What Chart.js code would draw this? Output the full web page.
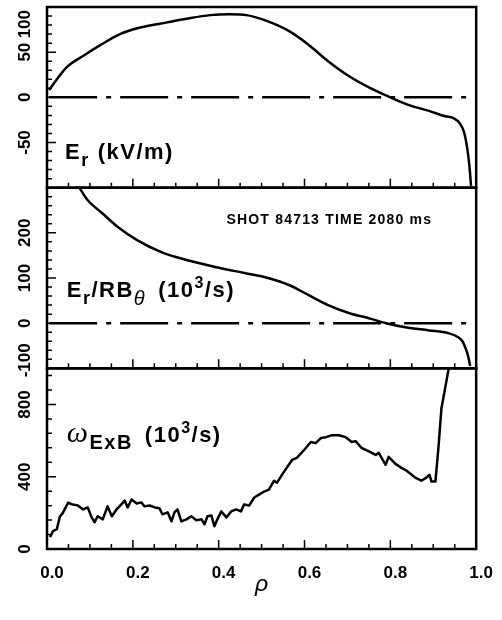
<!DOCTYPE html>
<html>
<head>
<meta charset="utf-8">
<script src="https://cdn.jsdelivr.net/npm/chart.js@4.4.1/dist/chart.umd.min.js"></script>
<style>
  html, body { margin: 0; padding: 0; background: #fff; }
  canvas { display: block; }
</style>
</head>
<body>
<canvas id="chart" width="502" height="620"></canvas>
<script>
const FONT = "'Liberation Sans', Arial, sans-serif";

// top panel: E_r (kV/m)
const erRho = [0.005, 0.02, 0.045, 0.085, 0.125, 0.17, 0.215, 0.28, 0.325, 0.38, 0.425, 0.465, 0.515, 0.565,
  0.61, 0.655, 0.705, 0.75, 0.795, 0.84, 0.89, 0.928, 0.947, 0.962, 0.972, 0.979, 0.984, 0.988];
const erVal = [8, 18, 33, 46, 58, 70, 77, 83, 87, 91, 92, 91, 84, 73,
  58, 40, 23, 11, 1, -8, -15, -21, -23, -29, -39, -56, -75, -98];

// middle panel: E_r / R B_theta (10^3/s)
const shearRho = [0.076, 0.095, 0.128, 0.165, 0.21, 0.265, 0.325, 0.395, 0.46, 0.515, 0.565, 0.61,
  0.655, 0.705, 0.75, 0.79, 0.835, 0.89, 0.935, 0.958, 0.968, 0.975, 0.981, 0.986];
const shearVal = [299, 272, 244, 213, 184, 158, 140, 124, 111, 100, 84, 62,
  40, 22, 11, 0, -9, -16, -22, -31, -40, -55, -72, -95];

// bottom panel: omega_ExB (10^3/s)
const wRho = [0.007, 0.014, 0.023, 0.030, 0.037, 0.049, 0.060, 0.072, 0.084, 0.095, 0.104, 0.111, 0.118,
  0.130, 0.141, 0.151, 0.162, 0.169, 0.181, 0.188, 0.197, 0.209, 0.220, 0.227, 0.239, 0.251, 0.262,
  0.269, 0.281, 0.290, 0.297, 0.304, 0.313, 0.325, 0.336, 0.348, 0.360, 0.367, 0.374, 0.383, 0.390,
  0.397, 0.406, 0.418, 0.429, 0.441, 0.452, 0.459, 0.471, 0.483, 0.494, 0.506, 0.517, 0.529, 0.536,
  0.552, 0.571, 0.582, 0.599, 0.615, 0.626, 0.638, 0.650, 0.664, 0.680, 0.696, 0.710, 0.719, 0.733,
  0.749, 0.766, 0.773, 0.789, 0.796, 0.812, 0.826, 0.838, 0.858, 0.872, 0.884, 0.891, 0.896, 0.905,
  0.912, 0.919, 0.930, 0.936];
const wVal = [66, 99, 110, 180, 200, 256, 246, 241, 219, 230, 175, 148, 181,
  164, 236, 181, 219, 236, 268, 230, 274, 252, 258, 236, 241, 230, 225,
  192, 203, 153, 203, 219, 153, 164, 181, 159, 164, 137, 181, 186, 126,
  164, 208, 175, 208, 219, 208, 246, 241, 285, 301, 318, 329, 378, 367,
  427, 493, 504, 548, 592, 586, 614, 619, 630, 630, 619, 592, 597, 559,
  542, 521, 532, 466, 510, 471, 449, 433, 395, 378, 395, 411, 373, 373,
  559, 778, 921, 1000];

// dash-dot zero lines (top and middle panels)
const zeroRho = [0.005, 0.98];
const zeroVal = [0, 0];

// y tick labels per panel
const erLabels = [-50, 0, 50, 100];
const shearLabels = [-100, 0, 100, 200];
const wLabels = [0, 400, 800];

const panels = [
  { id: 'yEr', min: -100, max: 100, minor: 10, major: 50, labels: erLabels },
  { id: 'yShear', min: -100, max: 300, minor: 20, major: 100, labels: shearLabels },
  { id: 'yW', min: 0, max: 1000, minor: 80, major: 400, labels: wLabels }
];

const toXY = (xs, ys) => xs.map((x, i) => ({ x, y: ys[i] }));

function drawRuns(ctx, x, y, runs) {
  for (const r of runs) {
    ctx.font = r.f;
    ctx.fillText(r.t, x, y + (r.dy || 0));
    x += ctx.measureText(r.t).width + (r.gap || 0);
  }
}

const decor = {
  id: 'decor',
  afterDatasetsDraw(chart) {
    const ctx = chart.ctx;
    const area = chart.chartArea;
    const xs = chart.scales.x;
    ctx.save();
    ctx.strokeStyle = '#000';
    ctx.fillStyle = '#000';

    // inward tick marks
    ctx.lineWidth = 1.5;
    ctx.beginPath();
    for (const p of panels) {
      const ys = chart.scales[p.id];
      for (let i = 1; i < 20; i++) {
        const px = xs.getPixelForValue(i * 0.05);
        ctx.moveTo(px, ys.bottom);
        ctx.lineTo(px, ys.bottom - (i % 4 === 0 ? 9 : 5));
      }
      for (let k = Math.floor(p.min / p.minor) + 1; k * p.minor < p.max; k++) {
        const v = k * p.minor;
        const py = ys.getPixelForValue(v);
        ctx.moveTo(area.left, py);
        ctx.lineTo(area.left + (v % p.major === 0 ? 9 : 5), py);
      }
    }
    ctx.stroke();

    // panel frames
    ctx.lineWidth = 2.5;
    for (const p of panels) {
      const ys = chart.scales[p.id];
      ctx.strokeRect(area.left, ys.top, area.right - area.left, ys.bottom - ys.top);
    }

    // rotated y labels, kept inside their panel
    ctx.font = `bold 17px ${FONT}`;
    ctx.textAlign = 'center';
    ctx.textBaseline = 'middle';
    for (const p of panels) {
      const ys = chart.scales[p.id];
      for (const v of p.labels) {
        const s = String(v);
        const w = ctx.measureText(s).width;
        let py = ys.getPixelForValue(v);
        py = Math.max(py, ys.top + w / 2 + 3);
        py = Math.min(py, ys.bottom + 9 - w / 2);
        ctx.save();
        ctx.translate(area.left - 22, py);
        ctx.rotate(-Math.PI / 2);
        ctx.fillText(s, 0, 0);
        ctx.restore();
      }
    }

    // panel names
    ctx.textAlign = 'left';
    ctx.textBaseline = 'alphabetic';
    ctx.letterSpacing = '1.5px';
    const big = `bold 22px ${FONT}`;
    const sub = `bold 18px ${FONT}`;
    const sup = `bold 16px ${FONT}`;
    const sEr = chart.scales.yEr, sSh = chart.scales.yShear, sW = chart.scales.yW;
    drawRuns(ctx, xs.getPixelForValue(0.042), sEr.getPixelForValue(-68), [
      { t: 'E', f: big }, { t: 'r', f: sub, dy: 7, gap: 8 }, { t: '(kV/m)', f: big }
    ]);
    drawRuns(ctx, xs.getPixelForValue(0.046), sSh.getPixelForValue(58), [
      { t: 'E', f: big }, { t: 'r', f: sub, dy: 7 }, { t: '/RB', f: big },
      { t: 'θ', f: `italic 20px ${FONT}`, dy: 8, gap: 12 },
      { t: '(10', f: big }, { t: '3', f: sup, dy: -9 }, { t: '/s)', f: big }
    ]);
    drawRuns(ctx, xs.getPixelForValue(0.046), sW.getPixelForValue(592), [
      { t: 'ω', f: `italic 30px 'Liberation Serif', serif` },
      { t: 'ExB', f: `bold 20px ${FONT}`, dy: 7, gap: 12 },
      { t: '(10', f: big }, { t: '3', f: sup, dy: -9 }, { t: '/s)', f: big }
    ]);
    ctx.letterSpacing = '1.2px';
    ctx.font = `bold 14px ${FONT}`;
    ctx.fillText('SHOT 84713 TIME 2080 ms', xs.getPixelForValue(0.418), sSh.getPixelForValue(220));
    ctx.restore();
  }
};

const line = (data, yAxisID, extra) => Object.assign({
  data, yAxisID,
  borderColor: '#000',
  borderWidth: 2.5,
  pointRadius: 0,
  fill: false
}, extra);

const yScale = (p, weight) => ({
  type: 'linear',
  position: 'left',
  stack: 'rho',
  stackWeight: 1,
  weight,
  min: p.min,
  max: p.max,
  ticks: { display: false },
  grid: { display: false, drawTicks: false },
  border: { display: false },
  afterFit: s => { s.width = 47; }
});

new Chart(document.getElementById('chart').getContext('2d'), {
  type: 'line',
  data: {
    datasets: [
      line(toXY(erRho, erVal), 'yEr', { cubicInterpolationMode: 'monotone' }),
      line(toXY(zeroRho, zeroVal), 'yEr', { borderDash: [48, 9, 5, 9] }),
      line(toXY(shearRho, shearVal), 'yShear', { cubicInterpolationMode: 'monotone' }),
      line(toXY(zeroRho, zeroVal), 'yShear', { borderDash: [48, 9, 5, 9] }),
      line(toXY(wRho, wVal), 'yW', { borderJoinStyle: 'round' })
    ]
  },
  options: {
    responsive: false,
    animation: false,
    events: [],
    layout: { padding: { top: 7, right: 24, left: 0, bottom: 0 } },
    plugins: { legend: { display: false }, tooltip: { enabled: false } },
    scales: {
      x: {
        type: 'linear',
        min: 0,
        max: 1,
        ticks: {
          stepSize: 0.2,
          autoSkip: false,
          maxRotation: 0,
          labelOffset: 5,
          padding: 14,
          color: '#000',
          font: { family: FONT, size: 17, weight: 'bold' },
          callback: v => v.toFixed(1)
        },
        grid: { display: false, drawTicks: false },
        border: { display: false },
        title: {
          display: true,
          text: 'ρ',
          color: '#000',
          font: { family: FONT, size: 23, style: 'italic' },
          padding: { top: 0, bottom: 22 }
        },
        afterFit: s => { s.height = 71; }
      },
      yEr: yScale(panels[0], 3),
      yShear: yScale(panels[1], 2),
      yW: yScale(panels[2], 1)
    }
  },
  plugins: [decor]
});
</script>
</body>
</html>
